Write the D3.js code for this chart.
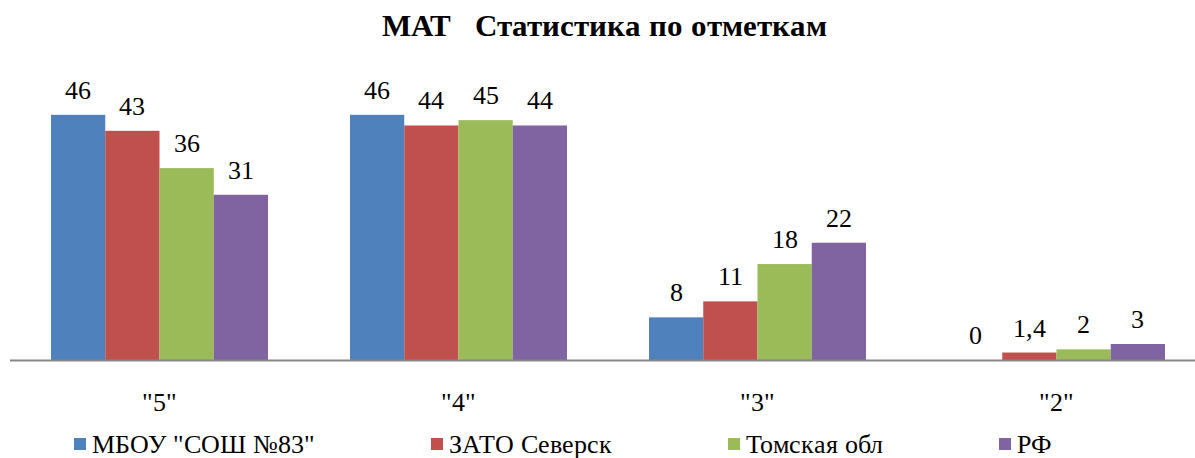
<!doctype html>
<html>
<head>
<meta charset="utf-8">
<style>
  @font-face { font-family: 'ChartSerif'; font-weight: 400; src: local('Liberation Serif'), local('LiberationSerif'), local('Times New Roman'); }
  @font-face { font-family: 'ChartSerif'; font-weight: 700; src: local('Liberation Serif Bold'), local('LiberationSerif-Bold'), local('Times New Roman Bold'); }
  svg text { font-family: 'ChartSerif', 'Liberation Serif', serif; }
</style>
</head>
<body style="margin:0">
<script src="https://cdn.jsdelivr.net/npm/d3@7"></script>
<script>
// data
var categories = ['"5"', '"4"', '"3"', '"2"'];
var seriesNames = ['МБОУ "СОШ №83"', 'ЗАТО Северск', 'Томская обл', 'РФ'];
var mbou  = [46, 46, 8, 0];
var zato  = [43, 44, 11, 1.4];
var tomsk = [36, 45, 18, 2];
var rf    = [31, 44, 22, 3];
var colors = ['#4F81BD', '#C0504D', '#9BBB59', '#8064A2'];

var values = [mbou, zato, tomsk, rf];

var width = 1195, height = 458;
var baseY = 360;

var svg = d3.select('body').append('svg')
    .attr('width', width)
    .attr('height', height);

// group scale, then bars inside each group (gap ~150% like excel)
var x0 = d3.scaleBand().domain(categories).range([10, 1206]).padding(0);
var x1 = d3.scaleBand().domain(d3.range(seriesNames.length))
    .range([41, x0.bandwidth() - 41]).padding(0);
var y = d3.scaleLinear().domain([0, 50]).range([baseY, 93.5]);

svg.append('text')
  .attr('x', 604).attr('y', 36)
  .attr('text-anchor', 'middle')
  .attr('font-size', 31)
  .attr('font-weight', 'bold')
  .style('white-space', 'pre')
  .text('МАТ   Статистика по отметкам');

categories.forEach(function(cat, ci) {
  var g = svg.append('g').attr('transform', 'translate(' + x0(cat) + ',0)');
  var rows = values.map(function(v, si) { return {s: si, v: v[ci]}; });

  g.selectAll('rect').data(rows).enter().append('rect')
    .attr('x', function(d) { return x1(d.s); })
    .attr('y', function(d) { return y(d.v); })
    .attr('width', x1.bandwidth())
    .attr('height', function(d) { return baseY - y(d.v); })
    .attr('fill', function(d) { return colors[d.s]; });

  g.selectAll('text').data(rows).enter().append('text')
    .attr('x', function(d) { return x1(d.s) + x1.bandwidth() / 2; })
    .attr('y', function(d) { return y(d.v) - 16; })
    .attr('text-anchor', 'middle')
    .attr('font-size', 26)
    .text(function(d) { return String(d.v).replace('.', ','); });
});

// axis line
svg.append('line')
  .attr('x1', 10).attr('x2', width)
  .attr('y1', baseY + 0.5).attr('y2', baseY + 0.5)
  .attr('stroke', '#868686').attr('stroke-width', 2);

// category labels
categories.forEach(function(cat) {
  svg.append('text')
    .attr('x', x0(cat) + x0.bandwidth() / 2)
    .attr('y', 411)
    .attr('text-anchor', 'middle')
    .attr('font-size', 26)
    .text(cat);
});

// legend: entries left to right with a fixed gap between them
var lx = 74, gap = 116;
seriesNames.forEach(function(name, i) {
  svg.append('rect')
    .attr('x', lx).attr('y', 438)
    .attr('width', 12).attr('height', 12)
    .attr('fill', colors[i]);
  var t = svg.append('text')
    .attr('x', lx + 18).attr('y', 453)
    .attr('font-size', 26)
    .text(name);
  lx += 18 + t.node().getComputedTextLength() + gap;
});
</script>
</body>
</html>
